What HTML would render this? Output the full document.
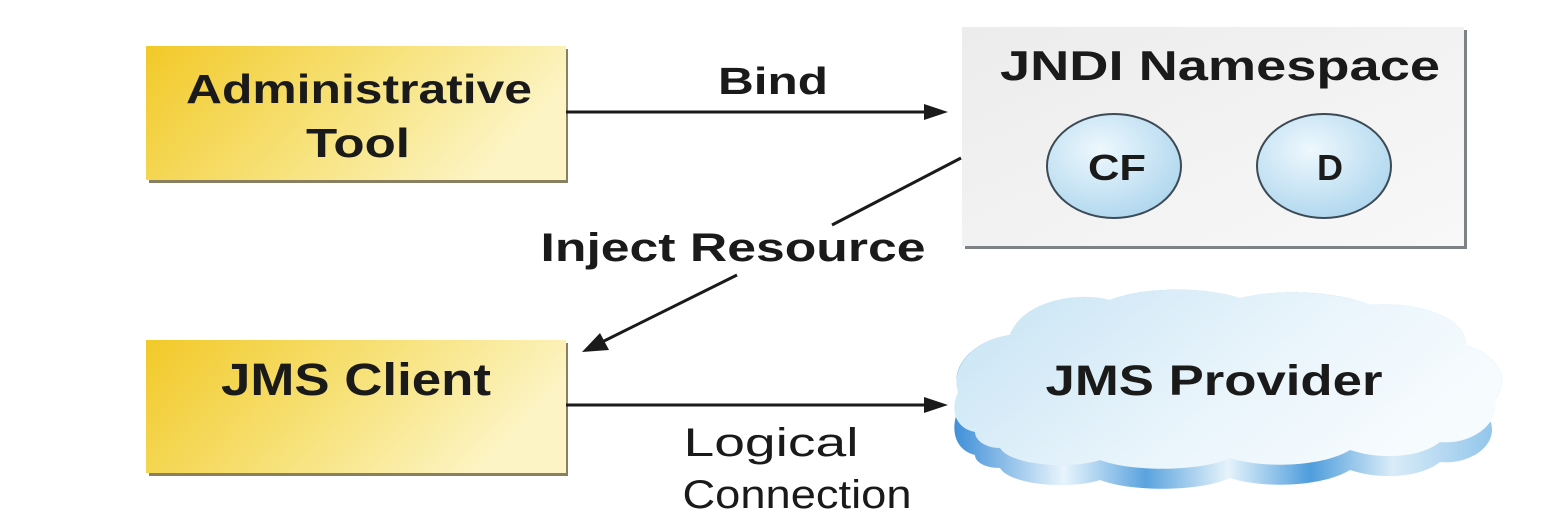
<!DOCTYPE html>
<html><head><meta charset="utf-8"><style>
html,body{margin:0;padding:0;background:#fff;width:1562px;height:520px;overflow:hidden}
text{font-family:"Liberation Sans",sans-serif;fill:#1a1a1a}
</style></head><body>
<svg width="1562" height="520" viewBox="0 0 1562 520" xmlns="http://www.w3.org/2000/svg">
<defs>
<linearGradient id="y" x1="0" y1="0" x2="1" y2="0.3">
<stop offset="0" stop-color="#f2c928"/><stop offset="0.55" stop-color="#f7e27a"/><stop offset="1" stop-color="#fcf4c4"/>
</linearGradient>
<linearGradient id="g" x1="0" y1="0" x2="1" y2="1">
<stop offset="0" stop-color="#ececec"/><stop offset="1" stop-color="#f8f8f8"/>
</linearGradient>
<radialGradient id="c" cx="0.4" cy="0.35" r="0.7">
<stop offset="0" stop-color="#eef8fd"/><stop offset="1" stop-color="#aed6ee"/>
</radialGradient>
<linearGradient id="cl" x1="0" y1="0" x2="1" y2="0.4">
<stop offset="0" stop-color="#c6e3f4"/><stop offset="0.6" stop-color="#e8f4fb"/><stop offset="1" stop-color="#f6fbfe"/>
</linearGradient>
<linearGradient id="ce" x1="0" y1="0" x2="1" y2="0">
<stop offset="0" stop-color="#3f8fd8"/><stop offset="0.2" stop-color="#e8f4fc"/><stop offset="0.35" stop-color="#5aa3de"/><stop offset="0.5" stop-color="#e6f3fb"/><stop offset="0.65" stop-color="#4e9ddc"/><stop offset="0.8" stop-color="#d9ecf8"/><stop offset="1" stop-color="#8cc2ea"/>
</linearGradient>
</defs>

<rect x="149" y="49" width="419" height="134" fill="#8a8060"/>
<rect x="146" y="46" width="420" height="134" fill="url(#y)"/>
<text x="359" y="103" font-size="41" font-weight="bold" text-anchor="middle" textLength="346" lengthAdjust="spacingAndGlyphs">Administrative</text>
<text x="358" y="157" font-size="41" font-weight="bold" text-anchor="middle" textLength="104" lengthAdjust="spacingAndGlyphs">Tool</text>

<rect x="149" y="343" width="419" height="133" fill="#8a8060"/>
<rect x="146" y="340" width="420" height="133" fill="url(#y)"/>
<text x="356" y="395" font-size="45" font-weight="bold" text-anchor="middle" textLength="270" lengthAdjust="spacingAndGlyphs">JMS Client</text>

<rect x="965" y="30" width="502" height="219" fill="#7d8286"/>
<rect x="962" y="27" width="502" height="219" fill="url(#g)"/>
<text x="1220" y="80" font-size="42" font-weight="bold" text-anchor="middle" textLength="440" lengthAdjust="spacingAndGlyphs">JNDI Namespace</text>
<ellipse cx="1114" cy="166" rx="67" ry="52" fill="url(#c)" stroke="#3b4a55" stroke-width="2"/>
<ellipse cx="1324" cy="166" rx="67" ry="52" fill="url(#c)" stroke="#3b4a55" stroke-width="2"/>
<text x="1117" y="180" font-size="36" font-weight="bold" text-anchor="middle" textLength="58" lengthAdjust="spacingAndGlyphs">CF</text>
<text x="1330" y="180" font-size="36" font-weight="bold" text-anchor="middle">D</text>

<path d="M975,455 C955,450 950,430 958,410 L958,390 C950,365 975,340 1010,335 C1020,305 1070,290 1110,300 C1150,285 1210,288 1240,298 C1280,288 1340,292 1370,305 C1420,300 1470,320 1465,345 C1500,355 1510,380 1495,400 L1490,420 C1500,445 1470,465 1440,462 C1420,478 1380,480 1350,470 C1320,488 1260,488 1230,478 C1200,492 1130,492 1100,480 C1070,490 1010,485 1000,468 C985,468 975,462 975,455 Z" fill="url(#ce)"/>
<path d="M975,432 C955,428 950,410 958,392 C950,365 975,340 1010,335 C1020,305 1070,290 1110,300 C1150,285 1210,288 1240,298 C1280,288 1340,292 1370,305 C1420,300 1470,320 1465,345 C1500,355 1510,380 1495,400 C1500,425 1470,445 1440,442 C1420,458 1380,460 1350,450 C1320,468 1260,468 1230,458 C1200,472 1130,472 1100,460 C1070,470 1010,465 1000,448 C985,448 975,440 975,432 Z" fill="url(#cl)"/>
<text x="1214" y="395" font-size="43" font-weight="bold" text-anchor="middle" textLength="337" lengthAdjust="spacingAndGlyphs">JMS Provider</text>

<line x1="566" y1="112" x2="928" y2="112" stroke="#1a1a1a" stroke-width="3"/>
<polygon points="948,112 924,104 924,120" fill="#1a1a1a"/>
<text x="773" y="94" font-size="38" font-weight="bold" text-anchor="middle" textLength="110" lengthAdjust="spacingAndGlyphs">Bind</text>

<line x1="961" y1="158" x2="832" y2="225" stroke="#1a1a1a" stroke-width="3"/>
<line x1="737" y1="275" x2="600" y2="343" stroke="#1a1a1a" stroke-width="3"/>
<polygon points="582,352 600,333 609,350" fill="#1a1a1a"/>
<text x="733" y="261" font-size="40" font-weight="bold" text-anchor="middle" textLength="385" lengthAdjust="spacingAndGlyphs">Inject Resource</text>

<line x1="566" y1="405" x2="928" y2="405" stroke="#1a1a1a" stroke-width="3"/>
<polygon points="948,405 924,397 924,413" fill="#1a1a1a"/>
<text x="771" y="456" font-size="40" text-anchor="middle" textLength="175" lengthAdjust="spacingAndGlyphs">Logical</text>
<text x="797" y="508" font-size="40" text-anchor="middle" textLength="229" lengthAdjust="spacingAndGlyphs">Connection</text>
</svg>
</body></html>
